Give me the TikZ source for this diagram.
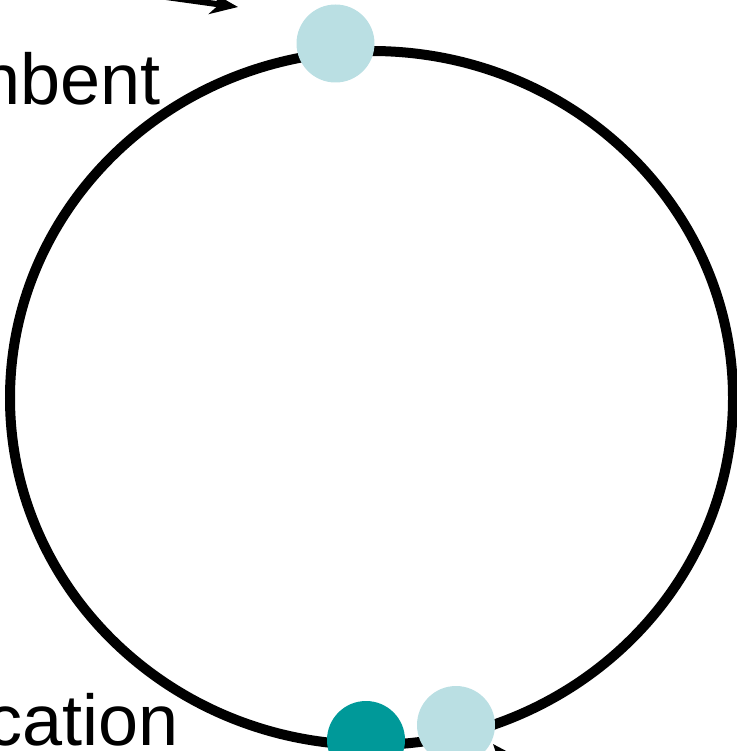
\documentclass[tikz,border=0pt]{standalone}
\usepackage{fontspec}
\setmainfont{Liberation Sans}
\usetikzlibrary{arrows.meta,shapes.geometric}
\definecolor{lightdot}{HTML}{BADFE3}
\definecolor{darkdot}{HTML}{009999}
\tikzset{
  ring/.style={draw=black, line width=10pt},
  dotlight/.style={circle, fill=lightdot, minimum size=78pt, inner sep=0pt},
  dotdark/.style={circle, fill=darkdot, minimum size=78pt, inner sep=0pt},
  bigtext/.style={inner sep=0pt, font=\fontsize{72}{80}\selectfont},
  arr/.style={line width=6pt, -{Stealth[length=28pt,width=22pt]}}
}
\begin{document}
\begin{tikzpicture}[x=1pt,y=-1pt]
\useasboundingbox (0,0) rectangle (736,751);
\node[ring, ellipse, minimum width=723pt, minimum height=694pt, inner sep=0pt] (ring) at (371.5,398) {};
\node[dotlight] (top) at (335.5,43.5) {};
\node[dotdark] (botdark) at (366,740) {};
\node[dotlight] (botlight) at (456,725) {};
\node[bigtext, anchor=base east] (lab1) at (161,105) {nbent};
\node[bigtext, anchor=base east] (lab2) at (179,745) {cation};
\coordinate (a1s) at (130,-8);
\coordinate (a1e) at (238,7);
\draw[arr] (a1s) -- (a1e);
\coordinate (a2s) at (545,805);
\coordinate (a2e) at (493,744);
\draw[arr] (a2s) -- (a2e);
\end{tikzpicture}
\end{document}
